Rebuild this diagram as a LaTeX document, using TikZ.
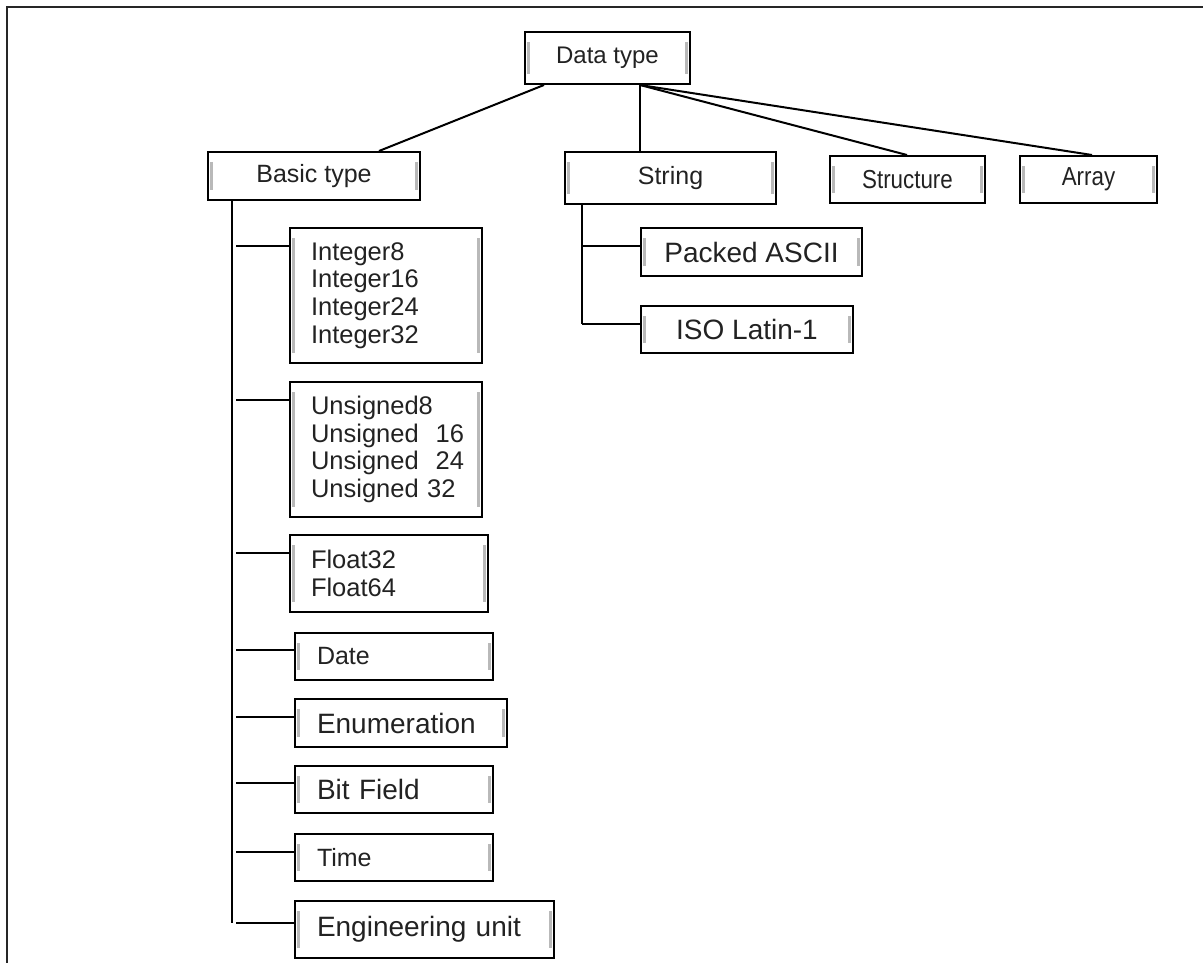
\documentclass[tikz,border=0pt]{standalone}
\usepackage{fontspec}
\setmainfont{Liberation Sans}
\newfontfamily\narrowfont{Liberation Sans}[FakeStretch=0.86]
\usetikzlibrary{calc}
\definecolor{txt}{HTML}{222222}
\newcommand\fsz[1]{\fontsize{#1}{27.6}\selectfont}
\begin{document}
\begin{tikzpicture}[x=1pt,y=-1pt,
  box/.style={draw=black, line width=2pt, rectangle, inner sep=0pt, text=txt,
    path picture={
      \draw[gray!55, line width=2.5pt]
        ([xshift=3.5pt,yshift=-10pt]path picture bounding box.north west) --
        ([xshift=3.5pt,yshift=10pt]path picture bounding box.south west);
      \draw[gray!55, line width=2.5pt]
        ([xshift=-3.5pt,yshift=-10pt]path picture bounding box.north east) --
        ([xshift=-3.5pt,yshift=10pt]path picture bounding box.south east);
    }},
  cbox/.style n args={2}{box, minimum width=#1, minimum height=#2, align=center},
  lbox/.style n args={3}{box, inner xsep=#1, text width=#2, minimum height=#3, align=left},
  conn/.style={draw=black, line width=2pt},
  frame/.style={draw=black!85, line width=2.5pt}
]
\useasboundingbox (0,0) rectangle (1203,963);
\draw[frame] (1203,7) -- (7,7) -- (7,963);

% top level
\node[cbox={165pt}{52pt}, font=\fsz{24}] (dt) at (607.5,58) {Data type};
\node[cbox={212pt}{48pt}, font=\fsz{25}] (bt) at (314,176) {Basic type};
\node[cbox={211pt}{52pt}, font=\fsz{25}] (st) at (670.5,178) {String};
\node[cbox={155pt}{47pt}, font=\narrowfont\fsz{26}] (su) at (907.5,179.5) {Structure};
\node[cbox={137pt}{47pt}, font=\narrowfont\fsz{26}] (ar) at (1088.5,179.5) {Array};

% string children
\node[cbox={221pt}{48pt}, font=\fsz{28}] (pa) at (751.5,252) {Packed ASCII};
\node[cbox={212pt}{47pt}, font=\fsz{28}] (iso) at (747,329.5) {ISO Latin-1};

% basic children
\node[lbox={21pt}{150pt}{135pt}, font=\fsz{25.5}] (int) at (386,295.5)
  {Integer8\\Integer16\\Integer24\\Integer32};
\node[lbox={21pt}{150pt}{135pt}, font=\fsz{25.5}] (uns) at (386,449.5)
  {\mbox{Unsigned8}\\\mbox{Unsigned~~16}\\\mbox{Unsigned~~24}\\\mbox{Unsigned~32}};
\node[lbox={21pt}{156pt}{77pt}, font=\fsz{25.5}] (flt) at (389,573.5)
  {Float32\\Float64};
\node[lbox={22pt}{154pt}{47pt}, font=\fsz{25}] (dat) at (394,656.5) {Date};
\node[lbox={22pt}{168pt}{48pt}, font=\fsz{28}] (enu) at (401,723) {Enumeration};
\node[lbox={22pt}{154pt}{47pt}, font=\fsz{28}] (bit) at (394,789.5) {Bit Field};
\node[lbox={22pt}{154pt}{47pt}, font=\fsz{25}] (tim) at (394,857.5) {Time};
\node[lbox={22pt}{215pt}{57pt}, font=\fsz{28}] (eng) at (424.5,929.5) {Engineering unit};

% connectors from Data type
\coordinate (dtb) at ($(dt.south west)+(116,0)$);
\draw[conn] ($(dt.south west)+(20,0)$) -- ($(bt.north east)+(-42,0)$);
\draw[conn] (dtb) -- (dtb |- st.north);
\draw[conn] (dtb) -- ($(su.north west)+(78,0)$);
\draw[conn] (dtb) -- ($(ar.north west)+(73,0)$);

% basic type tree
\coordinate (bt0) at ($(bt.south west)+(25,0)$);
\coordinate (bint) at ($(int.north west)+(0,19)$);
\coordinate (buns) at ($(uns.north west)+(0,19)$);
\coordinate (bflt) at ($(flt.north west)+(0,19)$);
\coordinate (bdat) at ($(dat.north west)+(0,18)$);
\coordinate (benu) at ($(enu.north west)+(0,19)$);
\coordinate (bbit) at ($(bit.north west)+(0,18)$);
\coordinate (btim) at ($(tim.north west)+(0,19)$);
\coordinate (beng) at ($(eng.north west)+(0,23)$);
\draw[conn] (bt0) -- (bt0 |- beng);
\foreach \b in {bint,buns,bflt,bdat,benu,bbit,btim,beng}
  \draw[conn] ($(bt0 |- \b)+(4,0)$) -- (\b);

% string tree
\coordinate (st0) at ($(st.south west)+(18,0)$);
\coordinate (bpa) at ($(pa.north west)+(0,19)$);
\coordinate (biso) at ($(iso.north west)+(0,19)$);
\draw[conn] (st0) -- (st0 |- biso);
\draw[conn] (st0 |- bpa) -- (bpa);
\draw[conn] (st0 |- biso) -- (biso);
\end{tikzpicture}
\end{document}
